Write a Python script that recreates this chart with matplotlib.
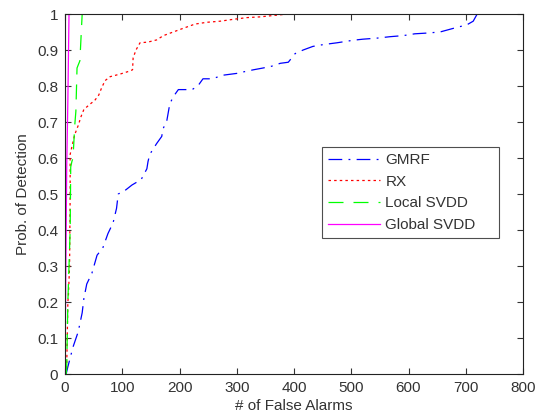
import matplotlib
matplotlib.use("Agg")
import matplotlib.pyplot as plt

plt.rcParams['font.family'] = ['Liberation Sans', 'DejaVu Sans']

gmrf_x = [2, 5, 14, 23, 30, 33, 38, 47, 56, 66, 75, 84, 90, 93, 105, 117, 133, 143, 145, 148,
          160, 169, 171, 178, 183, 189, 198, 204, 222, 232, 241, 257, 276, 300, 314, 329, 346,
          361, 376, 390, 402, 416, 433, 451, 475, 503, 520, 545, 568, 591, 611, 632, 655, 678,
          702, 713, 720]
gmrf_y = [0.0, 0.02, 0.075, 0.117, 0.17, 0.21, 0.25, 0.28, 0.33, 0.35, 0.39, 0.42, 0.46, 0.50,
          0.51, 0.525, 0.54, 0.57, 0.59, 0.61, 0.64, 0.66, 0.68, 0.705, 0.75, 0.77, 0.79, 0.79,
          0.79, 0.80, 0.82, 0.82, 0.83, 0.835, 0.84, 0.845, 0.85, 0.855, 0.863, 0.866, 0.89,
          0.90, 0.91, 0.915, 0.92, 0.927, 0.93, 0.933, 0.937, 0.94, 0.945, 0.947, 0.95, 0.96,
          0.97, 0.98, 1.0]

rx_x = [0, 3, 5, 6, 8, 9, 9, 14, 17, 23, 28, 33, 44, 52, 59, 64, 70, 79, 96, 110, 118, 119,
        124, 131, 145, 160, 172, 189, 206, 227, 248, 271, 293, 318, 341, 365, 390]
rx_y = [0.0, 0.02, 0.2, 0.22, 0.3, 0.5, 0.61, 0.645, 0.665, 0.69, 0.715, 0.735, 0.75, 0.76,
        0.775, 0.795, 0.815, 0.826, 0.833, 0.84, 0.845, 0.878, 0.90, 0.92, 0.922, 0.928, 0.94,
        0.95, 0.96, 0.972, 0.977, 0.98, 0.985, 0.99, 0.992, 0.996, 1.0]

lsvdd_x = [2, 3, 5, 9, 10, 12, 14, 17, 19, 21, 26, 30]
lsvdd_y = [0.0, 0.02, 0.2, 0.4, 0.575, 0.59, 0.6, 0.69, 0.73, 0.85, 0.87, 1.0]

gsvdd_x = [0, 0, 2, 3, 5, 7]
gsvdd_y = [0.0, 0.02, 0.39, 0.575, 0.76, 1.0]

labels = ['GMRF', 'RX', 'Local SVDD', 'Global SVDD']
colors = ['#0000ff', '#ff0000', '#00ff00', '#ff00ff']

FS = 11

fig = plt.figure(figsize=(5.38, 4.17), dpi=100)
ax = fig.add_axes([65/538, 43/417, 458/538, 360/417])

ax.plot(gmrf_x, gmrf_y, color=colors[0], linestyle=(0, (11, 5, 1.5, 5)), lw=0.9, label=labels[0])
ax.plot(rx_x, rx_y, color=colors[1], linestyle=(0, (2, 2.5)), lw=0.9, label=labels[1])
ax.plot(lsvdd_x, lsvdd_y, color=colors[2], linestyle=(0, (12, 8)), lw=0.9, label=labels[2])
ax.plot(gsvdd_x, gsvdd_y, color=colors[3], linestyle='-', lw=0.9, label=labels[3])

ax.set_xlim(0, 800)
ax.set_ylim(0, 1)
ax.set_xticks(range(0, 801, 100))
ax.set_yticks([i / 10 for i in range(11)])
ax.set_yticklabels(['0', '0.1', '0.2', '0.3', '0.4', '0.5', '0.6', '0.7', '0.8', '0.9', '1'])
ax.tick_params(direction='in', top=True, right=True, labelsize=FS, colors='#333333',
               length=4, width=0.8, pad=5)
for s in ax.spines.values():
    s.set_linewidth(0.8)
    s.set_color('#222222')

ax.set_xlabel('# of False Alarms', fontsize=FS, color='#333333', labelpad=3)
ax.set_ylabel('Prob. of Detection', fontsize=FS, color='#333333', labelpad=5)

x0 = (322 - 65) / 458
w = (499 - 322) / 458
y1 = (374 - 147) / 360
h = (238 - 147) / 360
leg = ax.legend(loc='upper left', bbox_to_anchor=(x0, y1 - h, w, h), mode='expand',
                fontsize=FS, frameon=True, fancybox=False, edgecolor='#222222',
                handlelength=3.4, handletextpad=0.35, borderpad=0.4, labelspacing=0.5,
                borderaxespad=0)
leg.get_frame().set_linewidth(0.8)
for t in leg.get_texts():
    t.set_color('#333333')

fig.savefig('out.png', dpi=100)
